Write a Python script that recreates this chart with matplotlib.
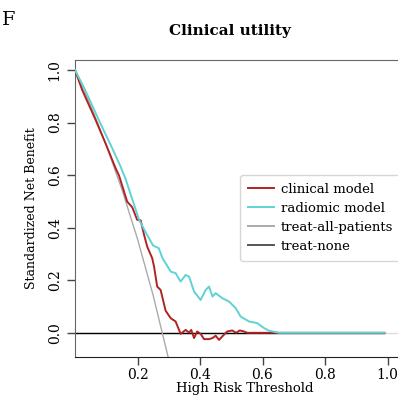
import matplotlib
matplotlib.use("Agg")
import matplotlib.pyplot as plt

# thresholds / standardized net benefit
clin_t = [0, 0.023, 0.066, 0.098, 0.13, 0.141, 0.167, 0.183, 0.199, 0.21, 0.221, 0.231,
          0.247, 0.253, 0.263, 0.274, 0.29, 0.306, 0.322, 0.338, 0.354, 0.365, 0.372,
          0.381, 0.391, 0.402, 0.413, 0.429, 0.44, 0.45, 0.461, 0.471, 0.487, 0.503,
          0.516, 0.527, 0.541, 0.551, 0.99]
clin_v = [1.0, 0.924, 0.81, 0.72, 0.626, 0.598, 0.499, 0.478, 0.43, 0.428, 0.373, 0.328,
          0.284, 0.252, 0.176, 0.163, 0.084, 0.056, 0.043, -0.004, 0.011, 0.001, 0.011,
          -0.02, 0.005, -0.004, -0.024, -0.024, -0.02, -0.011, -0.027, -0.014, 0.005, 0.009,
          0.0, 0.009, 0.005, 0.0, 0.0]

rad_t = [0, 0.03, 0.08, 0.12, 0.145, 0.162, 0.18, 0.205, 0.225, 0.25, 0.268, 0.28, 0.295,
         0.306, 0.322, 0.338, 0.354, 0.365, 0.381, 0.402, 0.418, 0.429, 0.44, 0.45, 0.471,
         0.493, 0.514, 0.53, 0.557, 0.583, 0.605, 0.621, 0.653, 0.99]
rad_v = [1.0, 0.93, 0.80, 0.70, 0.635, 0.585, 0.52, 0.43, 0.385, 0.332, 0.322, 0.284, 0.255,
         0.233, 0.227, 0.195, 0.22, 0.214, 0.157, 0.125, 0.163, 0.176, 0.138, 0.151, 0.132,
         0.119, 0.094, 0.062, 0.043, 0.037, 0.018, 0.008, 0.0, 0.0]

all_t = [0, 0.05, 0.1, 0.15, 0.2, 0.25, 0.3]
all_v = [1.0, 0.865, 0.714, 0.546, 0.357, 0.143, -0.102]

none_t = [0, 0.99]
none_v = [0, 0]

xticks = [0.2, 0.4, 0.6, 0.8, 1.0]
yticks = [0.0, 0.2, 0.4, 0.6, 0.8, 1.0]

plt.rcParams['font.family'] = ['DejaVu Serif']

fig = plt.figure(figsize=(3.98, 3.96), dpi=100)
# axes run past the right edge of the figure, as in the cropped original
ax = fig.add_axes([75 / 398, 39 / 396, 340 / 398, 297 / 396])

ax.axhline(0, color='#dddddd', lw=1, zorder=1)
ax.plot(none_t, none_v, color='black', lw=1, zorder=2)
ax.plot(all_t, all_v, color='#aaaaaa', lw=1, zorder=2)
ax.plot(clin_t, clin_v, color='#b22222', lw=1.4, zorder=3)
ax.plot(rad_t, rad_v, color='#5fd3d3', lw=1.4, zorder=4)

ax.set_xlim(0, 340 / 312.5)
ax.set_ylim(-0.092, 1.038)
ax.set_xticks(xticks)
ax.set_xticklabels(['0.2', '0.4', '0.6', '0.8', '1.0'], fontsize=10)
ax.set_yticks(yticks)
ax.set_yticklabels(['0.0', '0.2', '0.4', '0.6', '0.8', '1.0'], fontsize=10,
                   rotation=90, va='center')
ax.tick_params(length=6, width=1, colors='#444444', labelcolor='black')
ax.tick_params(axis='x', pad=2)
for side in ['left', 'top']:
    ax.spines[side].set_color('#666666')
ax.spines['bottom'].set_color('#222222')

ax.set_xlabel('High Risk Threshold', fontsize=9.5, labelpad=0)
ax.set_ylabel('Standardized Net Benefit', fontsize=9, labelpad=7)
fig.text(230 / 398, 1 - 31 / 396, 'Clinical utility', ha='center', va='center',
         fontsize=11, fontweight='bold')
fig.text(0.004, 1 - 20 / 396, 'F', ha='left', va='center', fontsize=14)

handles = [
    plt.Line2D([], [], color='#b22222', lw=1.4),
    plt.Line2D([], [], color='#5fd3d3', lw=1.4),
    plt.Line2D([], [], color='#aaaaaa', lw=1.4),
    plt.Line2D([], [], color='#555555', lw=1.4),
]
labels = ['clinical model', 'radiomic model', 'treat-all-patients', 'treat-none']
fig.legend(handles, labels, loc='upper left', bbox_to_anchor=(240 / 398, 1 - 175 / 396),
           fontsize=9.5, frameon=True, handlelength=2.0, labelspacing=0.45,
           borderpad=0.6, handletextpad=0.5, borderaxespad=0)

fig.savefig('out.png', dpi=100)
